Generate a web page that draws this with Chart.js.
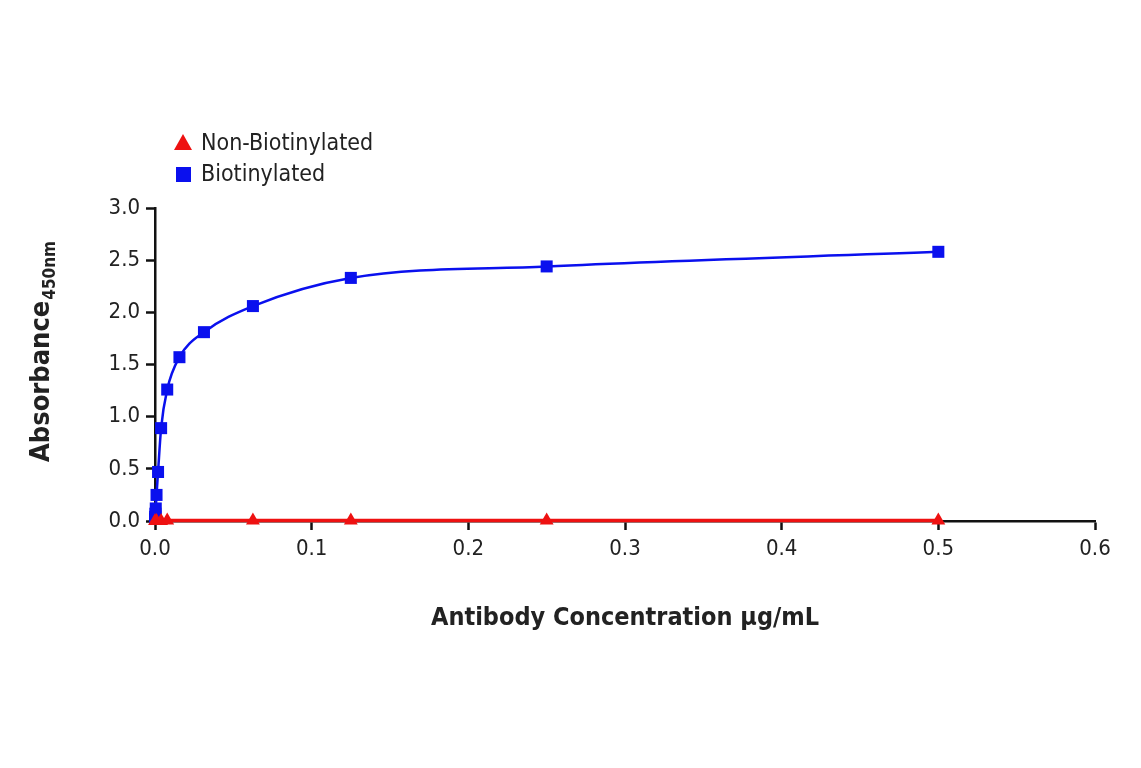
<!DOCTYPE html>
<html>
<head>
<meta charset="utf-8">
<script src="https://cdn.jsdelivr.net/npm/chart.js@4"></script>
<style>
  html, body { margin: 0; padding: 0; background: #fff; }
  #wrap { width: 1141px; height: 768px; }
</style>
</head>
<body>
<div id="wrap"><canvas id="c" width="1141" height="768"></canvas></div>
<script>
// concentrations (ug/mL), serial 2-fold dilution
const bioX = [0, 0.000122, 0.000244, 0.000488, 0.000977, 0.00195, 0.0039, 0.0078, 0.0156, 0.03125, 0.0625, 0.125, 0.25, 0.5];
const bioY = [0.02, 0.04, 0.07, 0.12, 0.25, 0.47, 0.89, 1.26, 1.57, 1.81, 2.06, 2.33, 2.44, 2.58];
const nonX = [0, 0.000977, 0.0039, 0.0078, 0.0625, 0.125, 0.25, 0.5];
const nonY = [0.0, 0.0, 0.0, 0.005, 0.005, 0.005, 0.005, 0.005];

const xTicks = [0, 0.1, 0.2, 0.3, 0.4, 0.5, 0.6];
const yTicks = [0, 0.5, 1.0, 1.5, 2.0, 2.5, 3.0];

const FONT = '"Liberation Sans Narrow", "DejaVu Sans Condensed", sans-serif';
const RED = '#ee1111';
const BLUE = '#0a10ee';

const toPts = (xs, ys) => xs.map((x, i) => ({ x: x, y: ys[i] }));

// legend + y title with subscript
const extras = {
  id: 'extras',
  afterDraw(chart) {
    const ctx = chart.ctx;
    ctx.save();
    // legend
    ctx.font = '23px ' + FONT;
    ctx.textBaseline = 'middle';
    const rows = [143, 174];
    chart.data.datasets.forEach((d, i) => {
      const y = rows[i];
      ctx.fillStyle = d.borderColor;
      if (d.pointStyle === 'triangle') {
        ctx.beginPath();
        ctx.moveTo(183, y - 9);
        ctx.lineTo(192, y + 7);
        ctx.lineTo(174, y + 7);
        ctx.closePath();
        ctx.fill();
      } else {
        ctx.fillRect(176, y - 7, 15, 15);
      }
      ctx.fillStyle = '#222';
      ctx.textAlign = 'left';
      ctx.fillText(d.label, 201, y + 1);
    });
    // y title
    ctx.translate(42, 352);
    ctx.rotate(-Math.PI / 2);
    ctx.font = 'bold 27px ' + FONT;
    ctx.fillStyle = '#222';
    const main = 'Absorbance';
    const w = ctx.measureText(main).width;
    ctx.font = 'bold 17px ' + FONT;
    const sub = '450nm';
    const ws = ctx.measureText(sub).width;
    const start = -(w + ws) / 2;
    ctx.textAlign = 'left';
    ctx.textBaseline = 'middle';
    ctx.font = 'bold 27px ' + FONT;
    ctx.fillText(main, start, 0);
    ctx.font = 'bold 17px ' + FONT;
    ctx.fillText(sub, start + w + 1, 9);
    ctx.restore();
  }
};

new Chart(document.getElementById('c'), {
  type: 'scatter',
  data: {
    datasets: [
      {
        label: 'Non-Biotinylated',
        data: toPts(nonX, nonY),
        showLine: true,
        clip: false,
        borderColor: RED,
        backgroundColor: RED,
        borderWidth: 3.5,
        pointStyle: 'triangle',
        pointRadius: 8,
        pointBorderWidth: 0,
        order: 1
      },
      {
        label: 'Biotinylated',
        data: toPts(bioX, bioY),
        showLine: true,
        clip: false,
        borderColor: BLUE,
        backgroundColor: BLUE,
        borderWidth: 2.5,
        cubicInterpolationMode: 'monotone',
        pointStyle: 'rect',
        pointRadius: 8.5,
        pointBorderWidth: 0,
        order: 2
      }
    ]
  },
  options: {
    responsive: false,
    animation: false,
    layout: { padding: { top: 208, right: 46, left: 0, bottom: 131 } },
    plugins: {
      legend: { display: false },
      tooltip: { enabled: false }
    },
    scales: {
      x: {
        type: 'linear',
        min: 0,
        max: 0.6,
        afterBuildTicks: s => { s.ticks = xTicks.map(v => ({ value: v })); },
        afterFit: s => { s.height = 116; },
        border: { display: true, color: '#111', width: 2.5 },
        grid: { drawOnChartArea: false, drawTicks: true, tickLength: 9, tickWidth: 2.5, color: '#111' },
        ticks: {
          color: '#222',
          font: { family: FONT, size: 22 },
          padding: 6,
          maxRotation: 0,
          callback: v => v === 0 ? '0.0' : String(Math.round(v * 10) / 10)
        },
        title: {
          display: true,
          text: 'Antibody Concentration µg/mL',
          color: '#222',
          font: { family: FONT, size: 25, weight: 'bold' },
          padding: { top: 20, bottom: 4 }
        }
      },
      y: {
        type: 'linear',
        min: 0,
        max: 3,
        afterBuildTicks: s => { s.ticks = yTicks.map(v => ({ value: v })); },
        afterFit: s => { s.width = 155; },
        border: { display: true, color: '#111', width: 2.5 },
        grid: { drawOnChartArea: false, drawTicks: true, tickLength: 9, tickWidth: 2.5, color: '#111' },
        ticks: {
          color: '#222',
          font: { family: FONT, size: 22 },
          padding: 6,
          callback: v => v.toFixed(1)
        }
      }
    }
  },
  plugins: [extras]
});
</script>
</body>
</html>
